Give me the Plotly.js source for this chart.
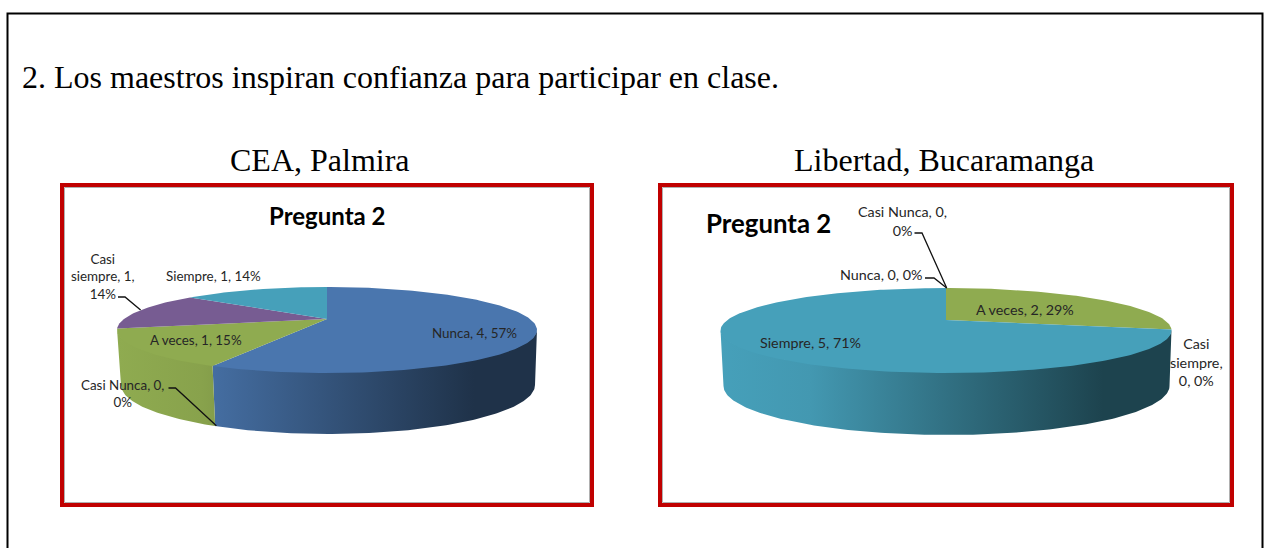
<!DOCTYPE html>
<html>
<head>
<meta charset="utf-8">
<script src="https://cdn.plot.ly/plotly-3.0.1.min.js"></script>
<style>html,body{margin:0;padding:0;background:#fff;overflow:hidden}#chart{width:1270px;height:548px}</style>
</head>
<body>
<div id="chart"></div>
<script>
// ---- data ----
const categories = ["Nunca", "Casi Nunca", "A veces", "Casi siempre", "Siempre"];
const palmiraValues = [4, 0, 1, 1, 1];
const libertadValues = [0, 0, 2, 0, 5];
const sliceColors = ["#4A76AE", "#AE4A48", "#8FAB50", "#775C92", "#46A0BA"];

const heading = "2. Los maestros inspiran confianza para participar en clase.";
const panelNames = ["CEA, Palmira", "Libertad, Bucaramanga"];
const chartTitle = "Pregunta 2";

const palmiraLabels = [
  ["Nunca, 4, 57%", 474, 333],
  ["Casi Nunca, 0,<br>0%", 122, 393],
  ["A veces, 1, 15%", 196, 340],
  ["Casi<br>siempre, 1,<br>14%", 103, 276],
  ["Siempre, 1, 14%", 213, 276]
];
const libertadLabels = [
  ["Nunca, 0, 0%", 881, 274],
  ["Casi Nunca, 0,<br>0%", 902, 221],
  ["A veces, 2, 29%", 1025, 309],
  ["Casi<br>siempre,<br>0, 0%", 1196, 362],
  ["Siempre, 5, 71%", 810, 342]
];
const leaderLines = [
  [[118, 125, 140.6], [297, 297, 310]],
  [[168.5, 175.5, 216.4], [388, 388, 425.7]],
  [[914.5, 922, 946.7], [233, 233, 288]],
  [[925, 934, 946.7], [278, 278, 288]]
];

// ---- pie placement on the page-sized axes ----
const pieA = {cx: 327, cy: 330, rx: 210, ry: 43, apex: 11, bcx: 328, bcy: 385, brx: 207, bry: 49, side: [118, 537]};
const pieB = {cx: 946, cy: 330.5, rx: 225.5, ry: 42.5, apex: 10.5, bcx: 946.5, bcy: 386, brx: 223, bry: 49, side: [720, 1171]};

function shade(hex, f) {
  const n = parseInt(hex.slice(1), 16);
  const ch = [n >> 16, (n >> 8) & 255, n & 255].map(v => Math.round(v * f));
  return "rgb(" + ch.join(",") + ")";
}

// Perspective projection of the unit circle onto the pie's top ellipse,
// so the slice apex lands above the ellipse centre.
function rim(p, theta) {
  const k = p.apex / p.ry;
  const d = p.rx * Math.sqrt(1 - k * k);
  const sx = Math.sin(theta), sy = Math.cos(theta), w = 1 + k * sy;
  return {dx: d * sx / w, dy: (p.ry * sy + p.apex) / w};
}

function drawPie(values, p) {
  const total = values.reduce((a, b) => a + b, 0);
  const sides = [], tops = [];
  let acc = 0;
  values.forEach((v, i) => {
    const t0 = acc / total * 2 * Math.PI;
    acc += v;
    const t1 = acc / total * 2 * Math.PI;
    if (v === 0) return;
    const n = Math.ceil((t1 - t0) / 0.02);
    const xs = [p.cx], ys = [p.cy - p.apex];
    for (let j = 0; j <= n; j++) {
      const r = rim(p, t0 + (t1 - t0) * j / n);
      xs.push(p.cx + r.dx); ys.push(p.cy - r.dy);
    }
    xs.push(p.cx); ys.push(p.cy - p.apex);
    tops.push({type: "scatter", mode: "lines", x: xs, y: ys, fill: "toself", fillcolor: sliceColors[i],
      line: {width: 0, color: sliceColors[i]}, hoverinfo: "skip", showlegend: false, name: categories[i]});

    // visible front wall: the part of the rim in the lower half of the ellipse
    const phi = t => {
      const r = rim(p, t);
      let a = Math.atan2(r.dy / p.ry, r.dx / p.rx);
      if (a > 0) a = (t < Math.PI ? 0 : -Math.PI);
      return a;
    };
    const a0 = phi(t0), a1 = phi(t1);
    if (Math.abs(a1 - a0) > 1e-6) {
      const m = Math.ceil(Math.abs(a1 - a0) / 0.02);
      const top = [[], []], bot = [[], []];
      for (let j = 0; j <= m; j++) {
        const a = a0 + (a1 - a0) * j / m;
        // wall reaches 1px under the top face so no seam shows
        top[0].push(p.cx + p.rx * Math.cos(a)); top[1].push(p.cy - p.ry * Math.sin(a) - 1);
        bot[0].push(p.bcx + p.brx * Math.cos(a)); bot[1].push(p.bcy - p.bry * Math.sin(a));
      }
      sides.push({type: "scatter", mode: "lines",
        x: top[0].concat(bot[0].reverse(), [top[0][0]]),
        y: top[1].concat(bot[1].reverse(), [top[1][0]]),
        fill: "toself",
        fillgradient: {type: "horizontal", start: p.side[0], stop: p.side[1],
          colorscale: [[0, shade(sliceColors[i], 1)], [0.2, shade(sliceColors[i], 0.95)],
                       [0.85, shade(sliceColors[i], 0.42)], [1, shade(sliceColors[i], 0.42)]]},
        line: {width: 0}, hoverinfo: "skip", showlegend: false, name: categories[i] + " lateral"});
    }
  });
  return sides.concat(tops);
}

const traces = drawPie(palmiraValues, pieA).concat(drawPie(libertadValues, pieB));
leaderLines.forEach(l => traces.push({type: "scatter", mode: "lines", x: l[0], y: l[1],
  line: {color: "#111", width: 1.3}, hoverinfo: "skip", showlegend: false}));

const dataFontA = {family: "Lato, sans-serif", size: 13.4, color: "#262626"};
const dataFontB = {family: "Lato, sans-serif", size: 14.3, color: "#262626"};
const note = (text, x, y, font) => ({text, x, y, xref: "x", yref: "y", xanchor: "center", yanchor: "middle",
  showarrow: false, align: "center", font});
const serif = {family: "'Liberation Serif', serif", size: 32, color: "#000"};
const titleFontA = {family: "Lato, sans-serif", size: 24, color: "#000", weight: 700};
const titleFontB = {family: "Lato, sans-serif", size: 25.8, color: "#000", weight: 700};

const annotations = [
  note(panelNames[0], 320, 160, serif),
  note(panelNames[1], 944, 160, serif),
  note(chartTitle, 327, 215, titleFontA),
  note(chartTitle, 768, 223, titleFontB)
].concat(palmiraLabels.map(l => note(l[0], l[1], l[2], dataFontA)),
         libertadLabels.map(l => note(l[0], l[1], l[2], dataFontB)));

const rect = (x0, y0, x1, y1, color, width) => ({type: "rect", xref: "x", yref: "y", x0, y0, x1, y1,
  line: {color, width}, fillcolor: "rgba(0,0,0,0)", layer: "below"});

const layout = {
  width: 1270, height: 548,
  margin: {l: 0, r: 0, t: 0, b: 0},
  paper_bgcolor: "#fff", plot_bgcolor: "#fff",
  title: {text: heading, x: 22 / 1270, xanchor: "left", xref: "paper", y: 1 - 77 / 548, yanchor: "middle", yref: "paper",
    font: {family: "'Liberation Serif', serif", size: 32, color: "#000"}},
  xaxis: {range: [0, 1270], visible: false, fixedrange: true},
  yaxis: {range: [548, 0], visible: false, fixedrange: true},
  showlegend: false,
  annotations,
  shapes: [
    {type: "path", xref: "x", yref: "y", path: "M 7.5 560 L 7.5 13.5 L 1262.5 13.5 L 1262.5 560", line: {color: "#000", width: 2}, layer: "below"},
    rect(62, 185, 592, 505, "#C00000", 4),
    rect(64.5, 187.5, 589.5, 502.5, "#B0B0B0", 1),
    rect(660, 185, 1232, 505, "#C00000", 4),
    rect(662.5, 187.5, 1229.5, 502.5, "#B0B0B0", 1)
  ]
};
Plotly.newPlot("chart", traces, layout, {displayModeBar: false, staticPlot: true});
</script>
</body>
</html>
